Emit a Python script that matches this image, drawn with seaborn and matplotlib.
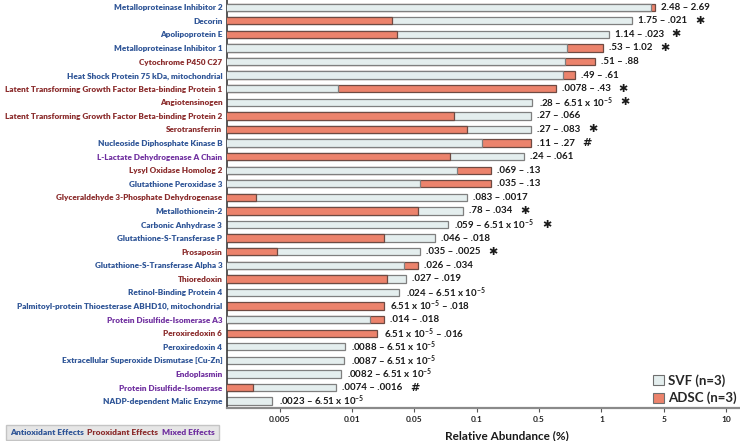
import matplotlib
matplotlib.use("Agg")
import matplotlib.pyplot as plt
import numpy as np
import pandas as pd
import seaborn as sns
from matplotlib.patches import Patch

proteins = [
    "Metalloproteinase Inhibitor 2",
    "Decorin",
    "Apolipoprotein E",
    "Metalloproteinase Inhibitor 1",
    "Cytochrome P450 C27",
    "Heat Shock Protein 75 kDa, mitochondrial",
    "Latent Transforming Growth Factor Beta-binding Protein 1",
    "Angiotensinogen",
    "Latent Transforming Growth Factor Beta-binding Protein 2",
    "Serotransferrin",
    "Nucleoside Diphosphate Kinase B",
    "L-Lactate Dehydrogenase A Chain",
    "Lysyl Oxidase Homolog 2",
    "Glutathione Peroxidase 3",
    "Glyceraldehyde 3-Phosphate Dehydrogenase",
    "Metallothionein-2",
    "Carbonic Anhydrase 3",
    "Glutathione-S-Transferase P",
    "Prosaposin",
    "Glutathione-S-Transferase Alpha 3",
    "Thioredoxin",
    "Retinol-Binding Protein 4",
    "Palmitoyl-protein Thioesterase ABHD10, mitochondrial",
    "Protein Disulfide-Isomerase A3",
    "Peroxiredoxin 6",
    "Peroxiredoxin 4",
    "Extracellular Superoxide Dismutase [Cu-Zn]",
    "Endoplasmin",
    "Protein Disulfide-Isomerase",
    "NADP-dependent Malic Enzyme",
]

effects = [
    "anti", "anti", "anti", "anti", "pro", "anti", "pro", "pro", "pro", "pro",
    "anti", "mixed", "pro", "anti", "pro", "anti", "anti", "anti", "pro", "anti",
    "pro", "anti", "anti", "mixed", "pro", "anti", "anti", "mixed", "mixed", "anti",
]

svf = [2.48, 1.75, 1.14, 0.53, 0.51, 0.49, 0.0078, 0.28, 0.27, 0.27,
       0.11, 0.24, 0.069, 0.035, 0.083, 0.078, 0.059, 0.046, 0.035, 0.026,
       0.027, 0.024, 6.51e-5, 0.014, 6.51e-5, 0.0088, 0.0087, 0.0082, 0.0074, 0.0023]

adsc = [2.69, 0.021, 0.023, 1.02, 0.88, 0.61, 0.43, 6.51e-5, 0.066, 0.083,
        0.27, 0.061, 0.13, 0.13, 0.0017, 0.034, 6.51e-5, 0.018, 0.0025, 0.034,
        0.019, 6.51e-5, 0.018, 0.018, 0.016, 6.51e-5, 6.51e-5, 6.51e-5, 0.0016, 6.51e-5]

E5 = r"6.51 x 10$^{-5}$"
range_labels = [
    "2.48 – 2.69", "1.75 – .021", "1.14 – .023", ".53 – 1.02", ".51 – .88",
    ".49 – .61", ".0078 – .43", ".28 – " + E5, ".27 – .066", ".27 – .083",
    ".11 – .27", ".24 – .061", ".069 – .13", ".035 – .13", ".083 – .0017",
    ".78 – .034", ".059 – " + E5, ".046 – .018", ".035 – .0025", ".026 – .034",
    ".027 – .019", ".024 – " + E5, E5 + " – .018", ".014 – .018", E5 + " – .016",
    ".0088 – " + E5, ".0087 – " + E5, ".0082 – " + E5, ".0074 – .0016", ".0023 – " + E5,
]

markers = ["", "✱", "✱", "✱", "", "", "✱", "✱", "", "✱",
           "#", "", "", "", "", "✱", "✱", "", "✱", "",
           "", "", "", "", "", "", "", "", "#", ""]

tick_values = [10 ** -2.58, 0.01, 10 ** -1.5, 0.1, 10 ** -0.5, 1, 10 ** 0.5, 10]
tick_labels = ["0.005", "0.01", "0.05", "0.1", "0.5", "1", "5", "10"]

effect_colors = {"anti": "#2F5597", "pro": "#8B2C2C", "mixed": "#7030A0"}
svf_color = "#E4EEEE"
adsc_color = "#EC836C"

sns.set_theme(style="white")
plt.rcParams["font.family"] = ["Lato", "DejaVu Sans"]
plt.rcParams["font.weight"] = "bold"
plt.rcParams["mathtext.fontset"] = "custom"
plt.rcParams["mathtext.bf"] = "Lato:bold"
plt.rcParams["mathtext.rm"] = "Lato:bold"
plt.rcParams["mathtext.default"] = "bf"

df = pd.DataFrame({"protein": proteins, "SVF": svf, "ADSC": adsc})

fig = plt.figure(figsize=(7.4, 4.41), dpi=100)
ax = fig.add_axes([0.307, 0.075, 0.693, 0.924])
ax.set_xscale("log")

sns.barplot(data=df, x="ADSC", y="protein", orient="h", color=adsc_color,
            width=0.54, edgecolor="#6E4A42", linewidth=0.9, saturation=1, ax=ax)
sns.barplot(data=df, x="SVF", y="protein", orient="h", color=svf_color,
            width=0.54, edgecolor="#7F7F7F", linewidth=0.9, saturation=1, ax=ax)

# smaller value drawn on top of the larger one
n = len(proteins)
adsc_patches = ax.patches[:n]
svf_patches = ax.patches[n:2 * n]
for i in range(n):
    if svf[i] >= adsc[i]:
        svf_patches[i].set_zorder(2)
        adsc_patches[i].set_zorder(3)
    else:
        adsc_patches[i].set_zorder(2)
        svf_patches[i].set_zorder(3)

ax.set_xlim(0.001, 12.9)
ax.set_ylim(n - 0.5, -0.5)

for i in range(n):
    top = max(svf[i], adsc[i])
    t = ax.annotate(range_labels[i], xy=(top, i), xytext=(4.5, 0), textcoords="offset points",
                    va="center", ha="left", fontsize=7, fontweight="bold",
                    color="#1A1A1A", zorder=5, annotation_clip=False)
    if markers[i]:
        ax.annotate(markers[i], xy=(1, 0.5), xycoords=t, xytext=(9, 0),
                    textcoords="offset points", va="center", ha="center",
                    fontsize=8, fontweight="bold", color="#1A1A1A",
                    family=["DejaVu Sans"], annotation_clip=False)

ax.set_xticks(tick_values)
ax.set_xticklabels(tick_labels)
ax.xaxis.set_minor_locator(matplotlib.ticker.NullLocator())
ax.tick_params(axis="x", length=3, width=0.8, color="#555555", labelsize=6, pad=3,
               labelcolor="#222222", direction="out", bottom=True)
ax.tick_params(axis="y", length=0, pad=3.5, labelsize=5.85)
for lbl, eff in zip(ax.get_yticklabels(), effects):
    lbl.set_color(effect_colors[eff])
    lbl.set_fontweight("heavy")

ax.set_ylabel("")
ax.set_xlabel("Relative Abundance (%)", fontsize=8.5, fontweight="bold", color="#1A1A1A")
ax.xaxis.set_label_coords(0.545, -0.055)

sns.despine(ax=ax)
ax.spines["left"].set_color("#3A3A3A")
ax.spines["left"].set_linewidth(1.2)
ax.spines["bottom"].set_color("#8A8A8A")
ax.spines["bottom"].set_linewidth(1.6)

handles = [Patch(facecolor=svf_color, edgecolor="#6F6F6F", linewidth=0.8),
           Patch(facecolor=adsc_color, edgecolor="#6F6F6F", linewidth=0.8)]
ax.legend(handles, ["SVF (n=3)", "ADSC (n=3)"], loc="lower right",
          bbox_to_anchor=(1.012, -0.014), frameon=False, prop={"size": 9.5, "weight": "bold"},
          handlelength=0.8, handleheight=0.8, handletextpad=0.35, labelspacing=0.35,
          borderaxespad=0.3)

eff_handles = [Patch(alpha=0) for _ in range(3)]
fig.legend(eff_handles, ["Antioxidant Effects", "Prooxidant Effects", "Mixed Effects"],
           loc="lower left", bbox_to_anchor=(0.002, -0.008), ncol=3, frameon=True,
           prop={"size": 6.0, "weight": "heavy"}, labelcolor=list(effect_colors.values()),
           handlelength=0, handletextpad=0, columnspacing=0.45, borderpad=0.5,
           facecolor="#E6E6E6", edgecolor="#C4C4C4", fancybox=False, framealpha=1)

fig.savefig("out.png", dpi=100)
